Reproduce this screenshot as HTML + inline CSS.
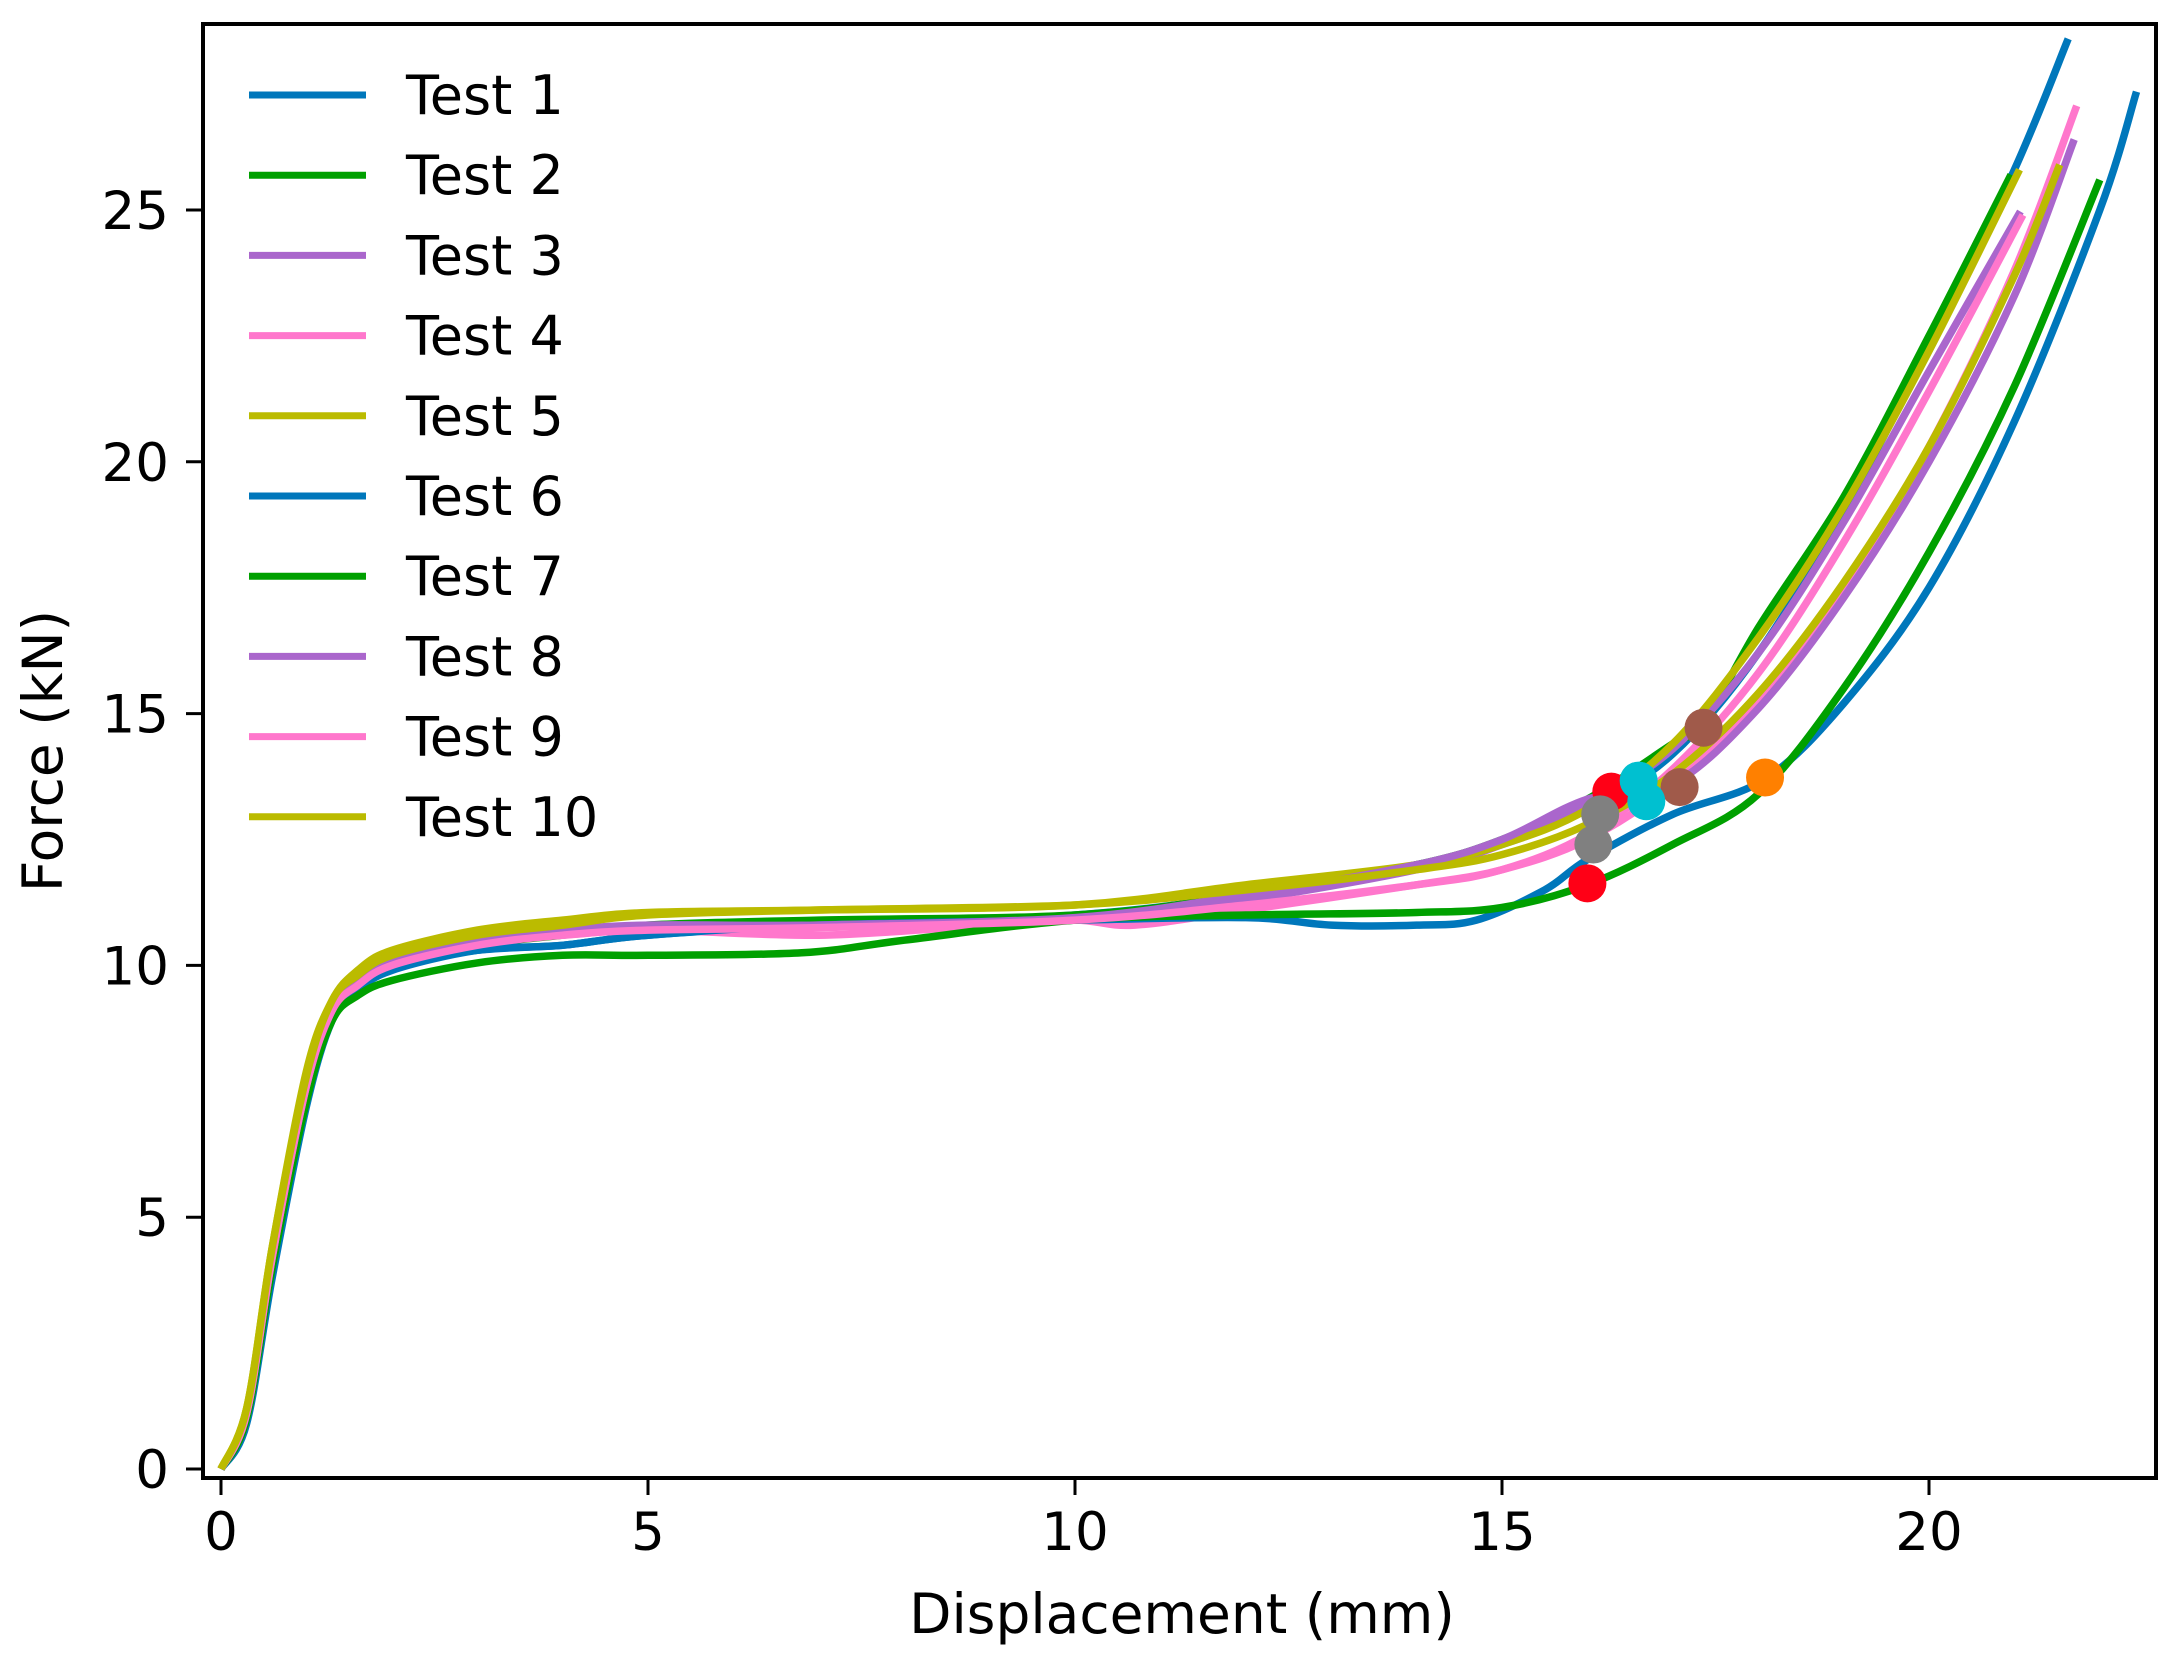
<!DOCTYPE html>
<html><head><meta charset="utf-8"><style>
html,body{margin:0;padding:0;background:#fff;}
svg{display:block;}
text{font-family:"DejaVu Sans","Liberation Sans",sans-serif;fill:#000;}
</style></head><body>
<svg id="chart" width="2182" height="1662" viewBox="0 0 2182 1662" xmlns="http://www.w3.org/2000/svg">
<g id="plot"></g>
<g id="axes"></g>
<g id="legend"></g>
</svg>
<script>
const testNames = ["Test 1","Test 2","Test 3","Test 4","Test 5","Test 6","Test 7","Test 8","Test 9","Test 10"];
const testColors = ["#0077bb","#00a000","#aa66cc","#ff77cc","#bbbb00","#0077bb","#00a000","#aa66cc","#ff77cc","#bbbb00"];
const xTicks = [0,5,10,15,20];
const yTicks = [0,5,10,15,20,25];
const t1x = [0,0.3,0.6,1,1.3,1.6,2,3,4,5,7,10,12,14,15,16,17,18,19,20,21,21.63];
const t1y = [0,1,4,7.4,9,9.6,10,10.3,10.4,10.6,10.8,11.0,11.4,12.0,12.4,13.1,14.2,16.2,19.0,22.3,25.8,28.4];
const t2x = [0,0.3,0.6,1,1.3,1.6,2,3,4,5,7,10,12,14,15,16,17,17.36,18,19,20,20.96];
const t2y = [0,1.1,4.2,7.6,9.1,9.6,10,10.4,10.6,10.8,10.9,11.0,11.4,12.0,12.5,13.3,14.4,14.8,16.7,19.3,22.5,25.7];
const t3x = [0,0.3,0.6,1,1.3,1.6,2,3,4,5,7,10,12,14,15,16,17,18,19,20,21.07];
const t3y = [0,1.1,4.2,7.6,9.1,9.7,10.1,10.5,10.7,10.8,10.8,10.9,11.3,11.9,12.4,13.2,14.3,16.2,18.8,21.8,24.97];
const t4x = [0,0.3,0.6,1,1.3,1.6,2,3,4,5,7,9,10,10.7,12,14,15,16,17,18,19,20,21,21.73];
const t4y = [0,1.1,4.2,7.6,9.1,9.7,10.1,10.5,10.6,10.7,10.6,10.8,10.9,10.8,11.1,11.6,11.9,12.5,13.6,15.2,17.5,20.3,23.8,27.07];
const t5x = [0,0.3,0.6,1,1.3,1.6,2,3,4,5,7,10,12,14,15,16,17,18,19,20,21.06];
const t5y = [0,1.2,4.4,7.9,9.3,9.9,10.3,10.7,10.9,11.05,11.1,11.2,11.6,12.0,12.4,13.1,14.4,16.5,19.1,22.2,25.8];
const t6x = [0,0.3,0.6,1,1.3,1.6,2,3,4,5,7,10,12,13,14,14.7,15.5,16,17,18.08,19,20,21,22,22.43];
const t6y = [0,0.9,3.8,7.2,8.9,9.5,9.9,10.3,10.4,10.6,10.8,10.9,10.95,10.8,10.8,10.9,11.5,12.1,13.0,13.7,15.2,17.5,20.8,25.0,27.35];
const t7x = [0,0.3,0.6,1,1.3,1.6,2,3,4,5,6.8,8,10,12,14,15,16,17,18,19,20,21,22];
const t7y = [0,1,4,7.3,8.9,9.4,9.7,10.05,10.2,10.2,10.25,10.5,10.9,11.0,11.05,11.15,11.6,12.4,13.4,15.5,18.2,21.5,25.6];
const t8x = [0,0.3,0.6,1,1.3,1.6,2,3,4,5,7,10,12,14,15,16,17,18,19,20,21,21.7];
const t8y = [0,1.1,4.2,7.6,9.1,9.7,10.1,10.5,10.7,10.75,10.8,10.95,11.4,12.0,12.5,13.3,13.6,15.1,17.3,20.0,23.3,26.4];
const t9x = [0,0.3,0.6,1,1.3,1.6,2,3,4,5,7,10,12,14,15,16,17,18,19,20,21.1];
const t9y = [0,1.1,4.2,7.6,9.1,9.6,10.0,10.4,10.6,10.7,10.75,10.9,11.2,11.6,11.9,12.6,13.9,15.8,18.4,21.4,24.9];
const t10x = [0,0.3,0.6,1,1.3,1.6,2,3,4,5,7,10,12,14,15,16,17,18,19,20,21,21.53];
const t10y = [0,1.2,4.4,7.8,9.3,9.8,10.2,10.6,10.8,11.0,11.1,11.2,11.5,11.9,12.2,12.8,13.8,15.4,17.6,20.3,23.7,25.9];
const seriesX = [t1x,t2x,t3x,t4x,t5x,t6x,t7x,t8x,t9x,t10x];
const seriesY = [t1y,t2y,t3y,t4y,t5y,t6y,t7y,t8y,t9y,t10y];
const markerX = [16.0,16.28,16.07,16.15,17.36,17.08,16.6,16.69,18.08];
const markerY = [11.63,13.45,12.4,13.0,14.72,13.54,13.67,13.26,13.73];
const markerColors = ["#ff0016","#ff0016","#808080","#808080","#a05a4a","#a05a4a","#00c0d0","#00c0d0","#ff8000"];

const NS="http://www.w3.org/2000/svg";
const L=203,R=2156,T=24,B=1478;
const X0=221,XU=85.4,Y0=1469,YU=50.36;
function sx(v){return X0+v*XU;}
function sy(v){return Y0-v*YU;}
function mk(tag,attrs,parent){const e=document.createElementNS(NS,tag);for(const k in attrs)e.setAttribute(k,attrs[k]);parent.appendChild(e);return e;}
function pathFrom(xa,ya){
  const p=xa.map((x,i)=>[sx(x),sy(ya[i])]);
  let d="M"+p[0][0].toFixed(1)+","+p[0][1].toFixed(1);
  for(let i=0;i<p.length-1;i++){
    const p0=p[i-1]||p[i],p1=p[i],p2=p[i+1],p3=p[i+2]||p2;
    const c1x=p1[0]+(p2[0]-p0[0])/6,c1y=p1[1]+(p2[1]-p0[1])/6;
    const c2x=p2[0]-(p3[0]-p1[0])/6,c2y=p2[1]-(p3[1]-p1[1])/6;
    d+=" C"+c1x.toFixed(1)+","+c1y.toFixed(1)+" "+c2x.toFixed(1)+","+c2y.toFixed(1)+" "+p2[0].toFixed(1)+","+p2[1].toFixed(1);
  }
  return d;
}
const plot=document.getElementById('plot');
const axes=document.getElementById('axes');
const legend=document.getElementById('legend');
const cp=mk('clipPath',{id:'clip'},document.getElementById('chart'));
mk('rect',{x:L,y:T,width:R-L,height:B-T},cp);
plot.setAttribute('clip-path','url(#clip)');
seriesX.forEach((xa,i)=>{
  const el=mk('path',{d:pathFrom(xa,seriesY[i]),fill:'none',stroke:testColors[i],'stroke-width':7.5,'stroke-linejoin':'round'},plot);
  
  
});
markerX.forEach((x,i)=>{
  const el=mk('circle',{cx:sx(x),cy:sy(markerY[i]),r:19,fill:markerColors[i]},plot);
  
  
});
const frame=mk('rect',{x:L,y:T,width:R-L,height:B-T,fill:'none',stroke:'#000','stroke-width':4},axes);


xTicks.forEach(v=>{
  const t=mk('line',{x1:sx(v),x2:sx(v),y1:B,y2:B+17,stroke:'#000','stroke-width':3},axes);
  
  
  const lb=mk('text',{x:sx(v),y:B+72,'font-size':53,'text-anchor':'middle'},axes);
  lb.textContent=v;
  
  
});
yTicks.forEach(v=>{
  const t=mk('line',{x1:L-17,x2:L,y1:sy(v),y2:sy(v),stroke:'#000','stroke-width':3},axes);
  
  
  const lb=mk('text',{x:L-34,y:sy(v)+19,'font-size':53,'text-anchor':'end'},axes);
  lb.textContent=v;
  
  
});
const xl=mk('text',{x:1182,y:1633,'font-size':55,'text-anchor':'middle'},axes);
xl.textContent='Displacement (mm)';


const yl=mk('text',{x:62,y:751,'font-size':55,'text-anchor':'middle',transform:'rotate(-90 62 751)'},axes);
yl.textContent='Force (kN)';


testNames.forEach((n,i)=>{
  const y=95+i*80.2;
  const ln=mk('line',{x1:249,x2:366,y1:y,y2:y,stroke:testColors[i],'stroke-width':7},legend);
  
  
  const tx=mk('text',{x:406,y:y+19,'font-size':54},legend);
  tx.textContent=n;
  
  
});
</script>
</body></html>
